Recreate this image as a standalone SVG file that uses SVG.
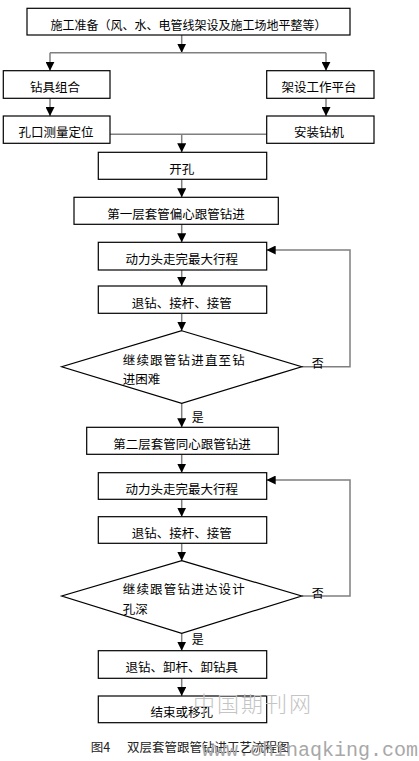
<svg xmlns="http://www.w3.org/2000/svg" width="419" height="761" viewBox="0 0 419 761">
<defs>
<marker id="ah" markerUnits="userSpaceOnUse" markerWidth="9" markerHeight="9" viewBox="0 0 8 8" refX="8" refY="4" orient="auto">
<path d="M0,0 L8,4 L0,8 z" fill="#000"/>
</marker>
<style>
.box{fill:#fff;stroke:#000;stroke-width:1.2}
.t{font-family:"Noto Sans CJK SC","Liberation Sans",sans-serif;font-size:12.5px;fill:#000;text-anchor:middle}
.tl{font-family:"Noto Sans CJK SC","Liberation Sans",sans-serif;font-size:12px;fill:#000}
.c{fill:none;stroke:#7f7f7f;stroke-width:1.5}
.ca{fill:none;stroke:#7f7f7f;stroke-width:1.5;marker-end:url(#ah)}
</style>
</defs>
<rect width="419" height="761" fill="#fff"/>
<g id="connectors">
<path class="ca" d="M181.7,35 V52.7"/>
<path class="c" d="M50,52.7 H326"/>
<path class="ca" d="M50,52.7 V70.7"/>
<path class="ca" d="M326,52.7 V70.7"/>
<path class="ca" d="M50,98.3 V116"/>
<path class="ca" d="M326,98.3 V116"/>
<path class="c" d="M110,134.3 H266.7"/>
<path class="ca" d="M181.7,134.3 V152.3"/>
<path class="ca" d="M181.7,179.3 V197.3"/>
<path class="ca" d="M181.7,224.3 V242.3"/>
<path class="ca" d="M181.7,270 V286"/>
<path class="ca" d="M181.7,313.3 V330.7"/>
<path class="ca" d="M181.7,403.3 V427.3"/>
<path class="ca" d="M181.7,454.3 V472.7"/>
<path class="ca" d="M181.7,499.3 V516.7"/>
<path class="ca" d="M181.7,543.3 V560.7"/>
<path class="ca" d="M181.7,633.3 V650.7"/>
<path class="ca" d="M181.7,678.3 V696"/>
<path class="ca" d="M301.7,366.7 H350 V250 H266.7"/>
<path class="ca" d="M301.7,596 H350 V480 H266.7"/>
</g>
<g id="n_prep"><rect class="box" x="27" y="8.3" width="323" height="26.7"/><text class="t" x="188.5" y="29.5" style="font-size:12px">施工准备（风、水、电管线架设及施工场地平整等）</text></g>
<g id="n_tool"><rect class="box" x="3.3" y="70.7" width="106.7" height="27.6"/><text class="t" x="55" y="92">钻具组合</text></g>
<g id="n_platform"><rect class="box" x="266.7" y="70.7" width="107.3" height="27.6"/><text class="t" x="319" y="92">架设工作平台</text></g>
<g id="n_measure"><rect class="box" x="3.3" y="116" width="106.7" height="27.3"/><text class="t" x="56" y="137">孔口测量定位</text></g>
<g id="n_rig"><rect class="box" x="266.7" y="116" width="107.3" height="27.3"/><text class="t" x="319" y="137">安装钻机</text></g>
<g id="n_open"><rect class="box" x="98.3" y="152.3" width="168.4" height="27"/><text class="t" x="181.7" y="173.5">开孔</text></g>
<g id="n_layer1"><rect class="box" x="74" y="197.3" width="204.3" height="27"/><text class="t" x="176" y="218.5">第一层套管偏心跟管钻进</text></g>
<g id="n_stroke1"><rect class="box" x="98.3" y="242.3" width="168.4" height="27.7"/><text class="t" x="181.7" y="264">动力头走完最大行程</text></g>
<g id="n_retract1"><rect class="box" x="98.3" y="286" width="168.4" height="27.3"/><text class="t" x="181.7" y="307.5">退钻、接杆、接管</text></g>
<g id="n_dec1"><path class="box" d="M181.7,330.7 L301.7,366.7 L181.7,403.3 L61.7,366.7 Z"/><text class="tl" x="122.7" y="365" style="letter-spacing:1.2px;font-size:12.5px">继续跟管钻进直至钻</text><text class="tl" x="122.7" y="384" style="font-size:12.5px">进困难</text><text class="tl" x="311.7" y="368">否</text><text class="tl" x="191.7" y="422">是</text></g>
<g id="n_layer2"><rect class="box" x="86.7" y="427.3" width="191.6" height="27"/><text class="t" x="182" y="448.5">第二层套管同心跟管钻进</text></g>
<g id="n_stroke2"><rect class="box" x="98.3" y="472.7" width="168.4" height="26.6"/><text class="t" x="181.7" y="494">动力头走完最大行程</text></g>
<g id="n_retract2"><rect class="box" x="98.3" y="516.7" width="168.4" height="26.6"/><text class="t" x="181.7" y="538">退钻、接杆、接管</text></g>
<g id="n_dec2"><path class="box" d="M181.7,560.7 L301.7,596 L181.7,633.3 L61.7,596 Z"/><text class="tl" x="122.7" y="594" style="letter-spacing:1.2px;font-size:12.5px">继续跟管钻进达设计</text><text class="tl" x="122.7" y="613.5" style="font-size:12.5px">孔深</text><text class="tl" x="311.7" y="598">否</text><text class="tl" x="191.7" y="644">是</text></g>
<g id="n_unload"><rect class="box" x="98.3" y="650.7" width="168.4" height="27.6"/><text class="t" x="181.7" y="672">退钻、卸杆、卸钻具</text></g>
<g id="n_end"><rect class="box" x="98.3" y="696" width="168.4" height="26.7"/><text class="t" x="181.7" y="717">结束或移孔</text></g>
<g id="caption">
<text class="tl" x="90.7" y="751.5" style="font-size:12.5px;fill:#222">图4</text>
<text class="tl" x="127" y="751.5" style="font-size:12.5px;fill:#222">双层套管跟管钻进工艺流程图</text>
<text x="193" y="712" style="font-family:'Noto Sans CJK SC',sans-serif;font-size:22px;fill:#c4c4c4;letter-spacing:2px;font-weight:300">中国期刊网</text>
<text x="202" y="756" style="font-family:'Liberation Mono',monospace;font-size:20px;fill:#a8a8a8">www.chinaqking.com</text>
</g>
</svg>
